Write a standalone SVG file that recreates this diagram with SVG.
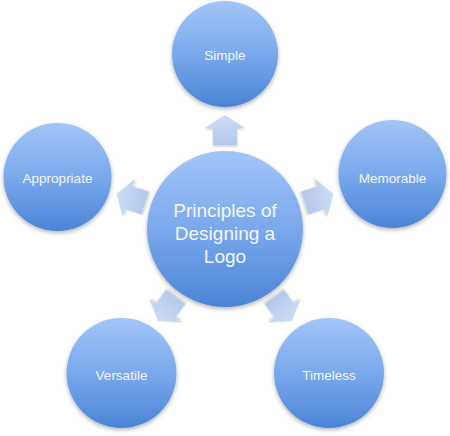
<svg xmlns="http://www.w3.org/2000/svg" width="450" height="436" viewBox="0 0 450 436">
  <defs>
    <linearGradient id="gCircle" x1="0" y1="0" x2="0" y2="1">
      <stop offset="0" stop-color="#a2c5f8"/>
      <stop offset="0.5" stop-color="#7aa9ec"/>
      <stop offset="1" stop-color="#4a84d6"/>
    </linearGradient>
    <linearGradient id="gArrow" x1="0" y1="0" x2="0" y2="1">
      <stop offset="0" stop-color="#cddcf5"/>
      <stop offset="1" stop-color="#b4c8ec"/>
    </linearGradient>
    <filter id="shadow" x="-20%" y="-20%" width="140%" height="150%">
      <feDropShadow dx="0" dy="2" stdDeviation="2" flood-color="#000" flood-opacity="0.3"/>
    </filter>
    <filter id="ashadow" x="-30%" y="-30%" width="160%" height="160%">
      <feDropShadow dx="0" dy="1.5" stdDeviation="1.2" flood-color="#000" flood-opacity="0.2"/>
    </filter>
    <path id="arrow" d="M0,-15 L20,-2 L12,-2 L12,15 L-12,15 L-12,-2 L-20,-2 Z"/>
  </defs>
  <style>
    .node circle { fill: url(#gCircle); filter: url(#shadow); }
    .node text { font-family: "Liberation Sans", Arial, sans-serif; fill: #f4f7fc; text-anchor: middle; }
    .outer text { font-size: 13.5px; }
    .center text { font-size: 19px; }
    .conn use { fill: url(#gArrow); filter: url(#ashadow); }
  </style>

  <g id="connectors" class="conn">
    <use href="#arrow" transform="translate(225 229) rotate(0) translate(0 -99)"/>
    <use href="#arrow" transform="translate(225 229) rotate(72) translate(0 -99)"/>
    <use href="#arrow" transform="translate(225 229) rotate(144) translate(0 -99)"/>
    <use href="#arrow" transform="translate(225 229) rotate(216) translate(0 -99)"/>
    <use href="#arrow" transform="translate(225 229) rotate(288) translate(0 -99)"/>
  </g>

  <g id="center" class="node center">
    <circle cx="225" cy="229" r="78"/>
    <text x="225" y="217">Principles of</text>
    <text x="225" y="240">Designing a</text>
    <text x="225" y="263">Logo</text>
  </g>

  <g id="simple" class="node outer">
    <circle cx="225" cy="54" r="53"/>
    <text x="225" y="60">Simple</text>
  </g>

  <g id="memorable" class="node outer">
    <circle cx="392.5" cy="174" r="54"/>
    <text x="392.5" y="183">Memorable</text>
  </g>

  <g id="timeless" class="node outer">
    <circle cx="329" cy="373" r="55"/>
    <text x="329" y="380">Timeless</text>
  </g>

  <g id="versatile" class="node outer">
    <circle cx="121.5" cy="373" r="55"/>
    <text x="121.5" y="380">Versatile</text>
  </g>

  <g id="appropriate" class="node outer">
    <circle cx="57.5" cy="177" r="54"/>
    <text x="57.5" y="183">Appropriate</text>
  </g>
</svg>
